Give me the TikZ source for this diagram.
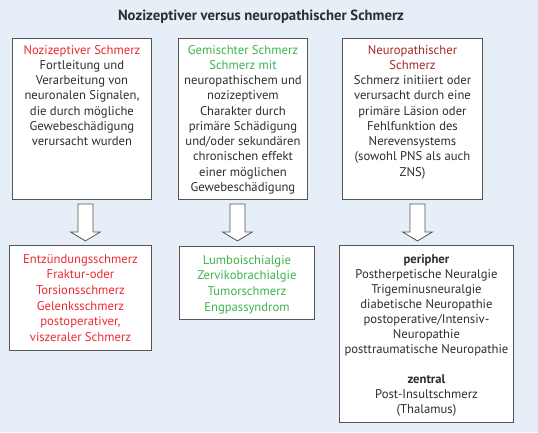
\documentclass[tikz,border=0pt]{standalone}
\usepackage{fontspec}
\setmainfont{PT Sans}
\usetikzlibrary{positioning, calc}
\definecolor{bgblue}{HTML}{E6EEF8}
\definecolor{framegray}{HTML}{555555}
\definecolor{txtgray}{HTML}{2E2E2E}
\definecolor{nozired}{HTML}{EE2A30}
\definecolor{mixgreen}{HTML}{3DB54A}
\definecolor{neurored}{HTML}{A3292B}

\tikzset{
  frame/.style={draw=framegray, line width=0.9bp, fill=white, anchor=north west, inner sep=0pt},
  boxtext/.style={anchor=north, align=center, inner sep=0pt, text=txtgray,
    font=\fontsize{12.7}{15.3}\selectfont},
  lowtext/.style={boxtext, font=\fontsize{12.7}{15.7}\selectfont},
  bigarrow/.pic={
    \draw[draw=framegray, fill=white, line width=0.8bp, line join=miter]
      (-7.5,0) -- (-7.5,28) -- (-15,28) -- (0,37) -- (15,28) -- (7.5,28) -- (7.5,0) -- cycle;
  }
}

\begin{document}
\begin{tikzpicture}[x=1bp, y=-1bp]
    \fill[bgblue] (0,0) rectangle (538,432);
    \useasboundingbox (0,0) rectangle (538,432);
    % Title
    \node[font=\bfseries\fontsize{14.8}{17}\selectfont, text=txtgray] (title) at (261,17) {Nozizeptiver versus neuropathischer Schmerz};
    % upper boxes
    \node[frame, minimum width=139bp, minimum height=161bp] (noz) at (12,38) {};
    \node[frame, minimum width=129bp, minimum height=161bp] (mix) at (178,38) {};
    \node[frame, minimum width=140bp, minimum height=161bp] (neuro) at (342,38) {};
    \node[boxtext] (noztext) at ($(noz.north)+(0,7)$) {\textcolor{nozired}{Nozizeptiver Schmerz}\\Fortleitung und\\Verarbeitung von\\neuronalen Signalen,\\die durch mögliche\\Gewebeschädigung\\verursacht wurden};
    \node[boxtext] (mixtext) at ($(mix.north)+(0,7)$) {\textcolor{mixgreen}{Gemischter Schmerz}\\\textcolor{mixgreen}{Schmerz mit}\\neuropathischem und\\nozizeptivem\\Charakter durch\\primäre Schädigung\\und/oder sekundären\\chronischen effekt\\einer möglichen\\Gewebeschädigung};
    \node[boxtext] (neurotext) at ($(neuro.north)+(0,7)$) {\textcolor{neurored}{Neuropathischer}\\\textcolor{neurored}{Schmerz}\\Schmerz initiiert oder\\verursacht durch eine\\primäre Läsion oder\\Fehlfunktion des\\Nerevensystems\\(sowohl PNS als auch\\ZNS)};
    % lower boxes
    \node[frame, minimum width=142bp, minimum height=105bp] (entz) at (9,245) {};
    \node[frame, minimum width=135bp, minimum height=73bp] (lumbo) at (179,246) {};
    \node[frame, minimum width=174bp, minimum height=177bp] (peri) at (339,245) {};
    \node[lowtext, text=nozired] (entztext) at ($(entz.north)+(0,9)$) {Entzündungsschmerz\\Fraktur-oder\\Torsionsschmerz\\Gelenksschmerz\\postoperativer,\\viszeraler Schmerz};
    \node[lowtext, text=mixgreen] (lumbotext) at ($(lumbo.north)+(0,9)$) {Lumboischialgie\\Zervikobrachialgie\\Tumorschmerz\\Engpassyndrom};
    \node[boxtext, font=\fontsize{12.7}{15.1}\selectfont] (peritext) at ($(peri.north)+(0,9)$) {\textbf{peripher}\\Postherpetische Neuralgie\\Trigeminusneuralgie\\diabetische Neuropathie\\postoperative/Intensiv-\\Neuropathie\\posttraumatische Neuropathie\\[15.3bp]\textbf{zentral}\\Post-Insultschmerz\\(Thalamus)};
    % arrows
    \coordinate (arr1) at ($(noz.south)+(3.5,4)$);
    \coordinate (arr2) at ($(mix.south)+(-5.5,4)$);
    \coordinate (arr3) at ($(neuro.south)+(5,4)$);
    \pic at (arr1) {bigarrow};
    \pic at (arr2) {bigarrow};
    \pic at (arr3) {bigarrow};
\end{tikzpicture}
\end{document}
